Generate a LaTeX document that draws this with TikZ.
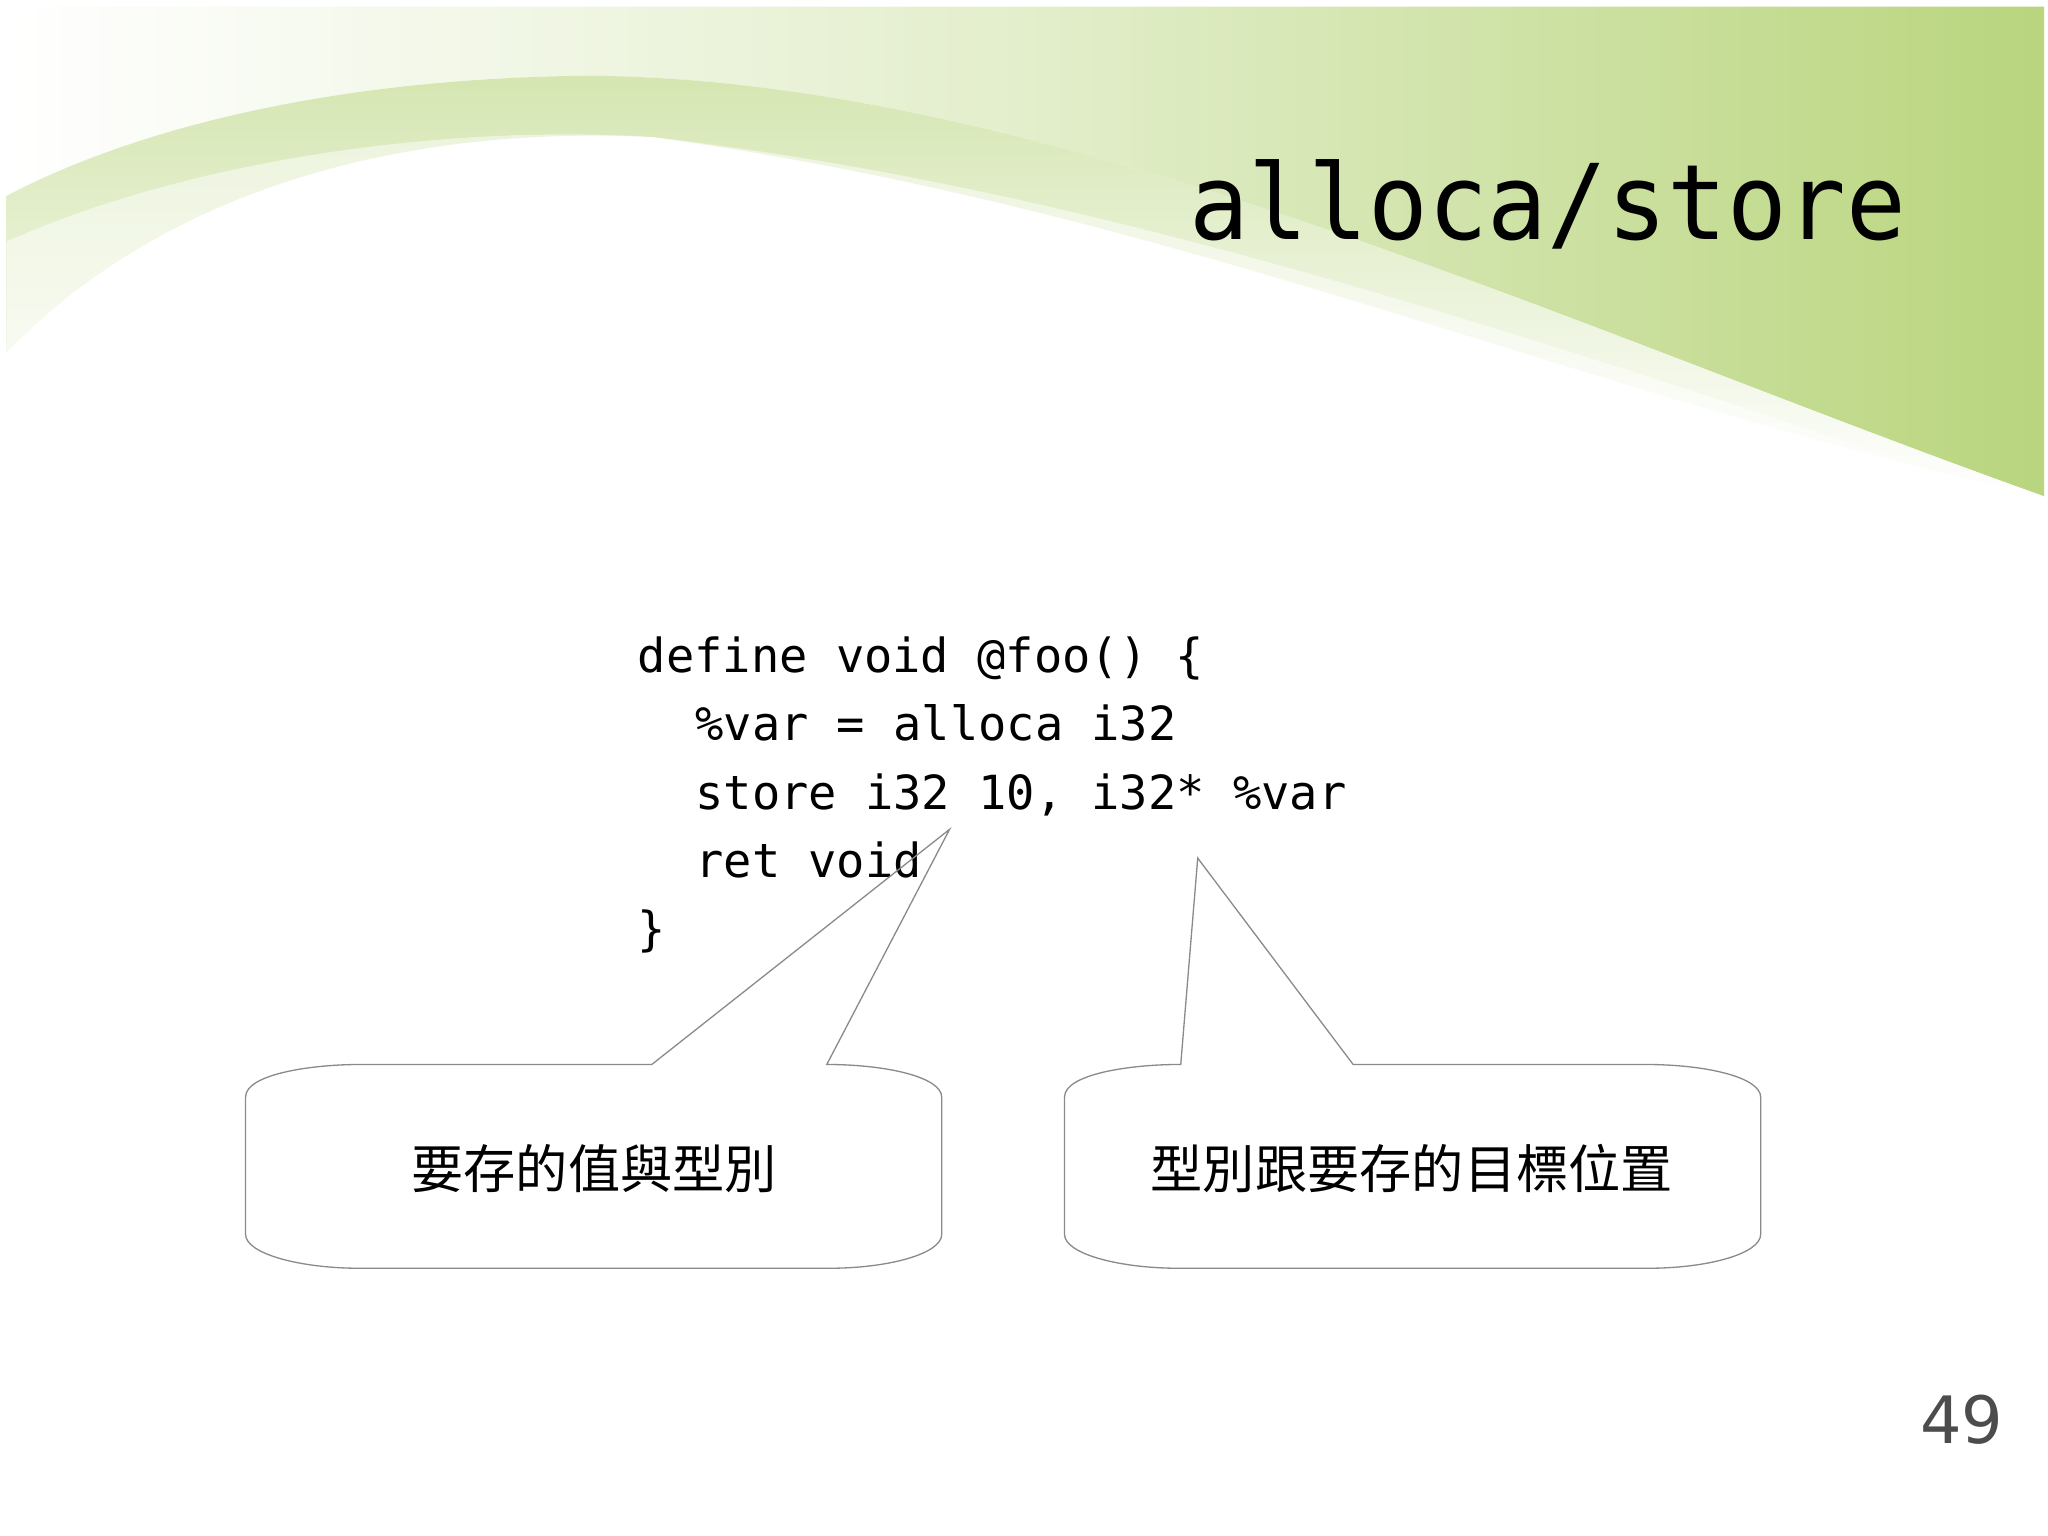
\documentclass[tikz,border=0pt]{standalone}
\usepackage{fontspec}
\setmonofont{DejaVu Sans Mono}
\newfontfamily\cjk{Noto Sans CJK TC}
\newfontfamily\pgnum{DejaVu Sans}
\usetikzlibrary{calc}
\definecolor{lg}{HTML}{B9D57E}
\definecolor{callline}{HTML}{8A8A8A}
\tikzset{
  callout/.style={draw=callline, line width=0.5pt},
  code/.style={anchor=base west, font=\ttfamily\fontsize{18}{18}\selectfont, inner sep=0pt},
  cjktext/.style={font=\cjk\fontsize{20}{20}\selectfont}
}
\begin{document}
\begin{tikzpicture}[x=0.5pt,y=-0.5pt]
\useasboundingbox (0,0) rectangle (1568,1176);
\fill[white] (0,0) rectangle (1568,1176);
% background swoosh
\shade[left color=white, right color=lg, middle color=lg!40]
  (5,5) -- (1565,5) -- (1565,380) .. controls (1200,250) and (800,60) .. (450,58)
  .. controls (250,60) and (100,100) .. (5,150) -- cycle;
\shade[top color=lg!60, bottom color=white]
  (5,150) .. controls (100,100) and (250,60) .. (450,58)
  .. controls (800,60) and (1200,250) .. (1565,380)
  .. controls (1200,300) and (900,160) .. (500,105)
  .. controls (300,95) and (120,150) .. (5,270) -- cycle;
\fill[white,opacity=0.5]
  (5,185) .. controls (150,120) and (350,95) .. (500,105)
  .. controls (800,140) and (1100,230) .. (1565,390) -- (1565,1176) -- (5,1176) -- cycle;
% title
\node[anchor=base, font=\ttfamily\fontsize{40}{40}\selectfont, inner sep=0pt, xscale=0.95] (title) at (1185,183) {alloca/store};
% code
\node[code] (l1) at (488,515) {define void @foo() \{};
\node[code] (l2) at (532,567) {\%var = alloca i32};
\node[code] (l3) at (532,620) {store i32 10, i32* \%var};
\node[code] (l4) at (532,672) {ret void};
\node[code] (l5) at (488,724) {\}};
% callouts
\coordinate (p1) at (727,635);
\coordinate (p2) at (917,657);
\path[callout] (188,840) .. controls (188,822) and (240,815) .. (275,815) -- (499,815) -- (p1) -- (633,815)
  .. controls (680,815) and (721,825) .. (721,840) -- (721,945)
  .. controls (721,960) and (680,971) .. (635,971) -- (275,971)
  .. controls (230,971) and (188,960) .. (188,945) -- cycle;
\path[callout] (815,840) .. controls (815,822) and (867,815) .. (902,815) -- (904,815) -- (p2) -- (1036,815) -- (1260,815)
  .. controls (1307,815) and (1348,825) .. (1348,840) -- (1348,945)
  .. controls (1348,960) and (1307,971) .. (1262,971) -- (902,971)
  .. controls (857,971) and (815,960) .. (815,945) -- cycle;
\node[cjktext] (c1) at (455,895) {要存的值與型別};
\node[cjktext] (c2) at (1081,895) {型別跟要存的目標位置};
\node[font=\pgnum\fontsize{25}{25}\selectfont, text=black!70] (pg) at (1502,1087) {49};
\end{tikzpicture}
\end{document}
